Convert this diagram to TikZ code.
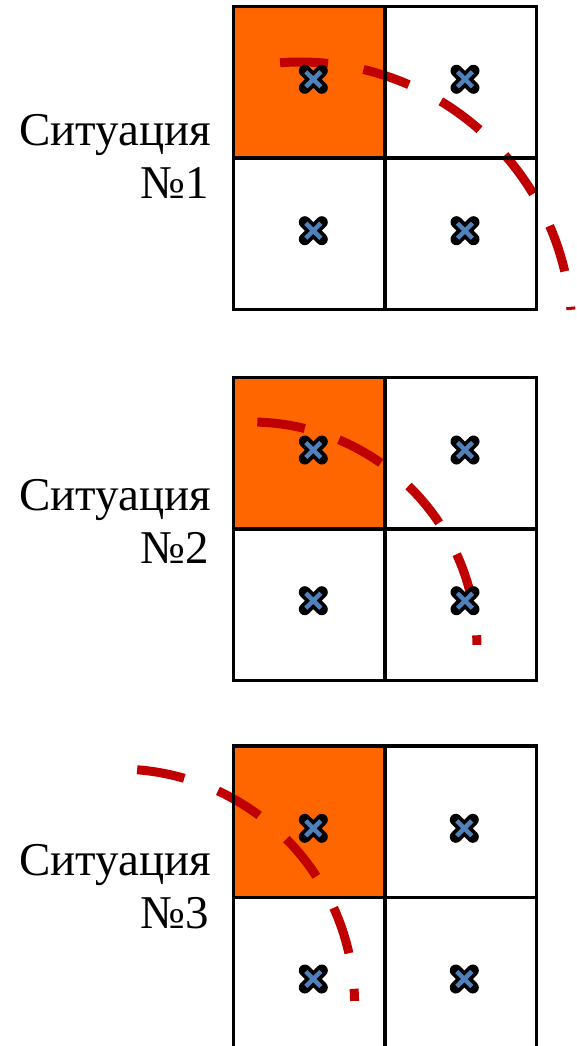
\documentclass[tikz,border=0pt]{standalone}
\usepackage{fontspec}
\setmainfont{Liberation Serif}
\newfontfamily\capfont{Liberation Serif}
\definecolor{orangecell}{HTML}{FF6600}
\definecolor{darkred}{HTML}{C00000}
\definecolor{markblue}{HTML}{4F81BD}
\begin{document}
\begin{tikzpicture}[x=1pt,y=-1pt,
  gridline/.style={draw=black,line width=3.5pt},
  ring/.style={draw=darkred,line width=9pt,dash pattern=on 48pt off 36pt},
  sitlabel/.style={font=\capfont\fontsize{47}{53}\selectfont,inner sep=0pt,anchor=base east},
  xmark/.pic={
    \draw[black,line width=12pt,line cap=round] (-8.5,-8.5)--(8.5,8.5) (-8.5,8.5)--(8.5,-8.5);
    \draw[markblue,line width=4.5pt] (-7.5,-7.5)--(7.5,7.5) (-7.5,7.5)--(7.5,-7.5);
  }]
\useasboundingbox (0,0) rectangle (577,1046);
\clip (0,0) rectangle (577,1046);

% orange top-left cell of each board
\foreach \ty in {6.5,377.5,746}{
  \fill[orangecell] (233.5,\ty) rectangle (385,\ty+151.5);
}

% dashed arcs
\draw[ring,shift={(300,334)}] (-94.2:272) arc[start angle=-94.2,end angle=-5.1,radius=272];
\draw[ring,shift={(251,648)}] (-88.4:226) arc[start angle=-88.4,end angle=-0.8,radius=226];
\draw[ring,shift={(118.6,1005)}] (-85.5:236) arc[start angle=-85.5,end angle=-1.0,radius=236];

% board lines
\foreach \ty in {6.5,377.5,746}{
  \draw[gridline] (233.5,\ty) rectangle (536.5,\ty+303)
    (385,\ty) -- (385,\ty+303)
    (233.5,\ty+151.5) -- (536.5,\ty+151.5);
}

% markers in the cells
\foreach \my in {79.3,230.7,450,600.7}{
  \pic at (313.3,\my) {xmark};
  \pic at (465,\my) {xmark};
}
\foreach \my in {828.3,979}{
  \pic at (313.3,\my) {xmark};
  \pic at (464.3,\my) {xmark};
}

% captions
\node[sitlabel] (t1a) at (211.7,145) {Ситуация};
\node[sitlabel] (t1b) at (209,198.3) {№1};
\node[sitlabel] (t2a) at (211.7,510) {Ситуация};
\node[sitlabel] (t2b) at (209,563) {№2};
\node[sitlabel] (t3a) at (211.7,875) {Ситуация};
\node[sitlabel] (t3b) at (209,928) {№3};
\end{tikzpicture}
\end{document}
